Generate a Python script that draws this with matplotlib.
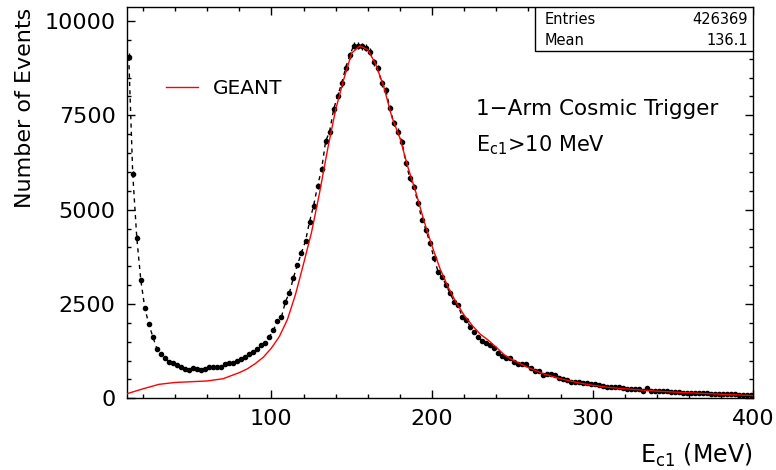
import numpy as np
import matplotlib
matplotlib.use("Agg")
import matplotlib.pyplot as plt
from matplotlib.lines import Line2D
from matplotlib.patches import Rectangle
from matplotlib.ticker import MultipleLocator

# ---- data ----
bin_low = 10.0
bin_width = 2.5
counts = [
    9050, 5940, 4260, 3140, 2390, 1970, 1630, 1320, 1170, 1070,
    975, 945, 885, 840, 780, 750, 800, 780, 760, 785,
    830, 820, 820, 820, 910, 925, 945, 990, 1050, 1100,
    1175, 1230, 1300, 1410, 1460, 1630, 1800, 2060, 2150, 2560,
    2800, 3200, 3540, 3860, 4170, 4680, 5100, 5630, 6070, 6810,
    7070, 7660, 8020, 8350, 8760, 9090, 9350, 9345, 9330, 9290,
    9190, 8910, 8750, 8350, 8170, 7690, 7290, 7070, 6800, 6230,
    5830, 5610, 5170, 4730, 4460, 4110, 3710, 3355, 3220, 3000,
    2780, 2560, 2470, 2160, 2080, 1900, 1765, 1630, 1520, 1470,
    1410, 1330, 1200,
    1120, 1060, 1060, 971, 909, 900, 900, 795, 733, 733,
    617, 636, 636, 617, 547, 503, 485, 441, 441, 424,
    414, 414, 388, 379, 353, 326, 308, 308, 308, 308,
    282, 247, 238, 256, 238, 203, 265, 203, 194, 194,
    194, 194, 177, 177, 159, 150, 150, 150, 133, 133,
    133, 133, 124, 115, 115, 115, 115, 106, 106, 97,
    97, 97, 88,
]

geant_x = [10, 20, 30, 40, 50, 60, 70, 80, 85, 90, 95, 100, 105, 110, 115,
           120, 125, 130, 135, 140, 145, 150, 155, 160, 165, 170, 175, 180,
           185, 190, 195, 200, 205, 210, 215, 220, 225, 230, 235, 240, 245,
           250, 260, 270, 280, 290, 300, 310, 320, 330, 340, 350, 360, 370,
           380, 390, 400]
geant_y = [120, 250, 370, 420, 440, 460, 520, 680, 780, 920, 1090, 1330, 1640,
           2090, 2750, 3560, 4400, 5450, 6600, 7650, 8450, 9150, 9340, 9240,
           8850, 8250, 7450, 6900, 6120, 5450, 4700, 4030, 3430, 2950, 2540,
           2200, 1930, 1700, 1540, 1350, 1150, 1020, 812, 640, 520, 420, 345,
           290, 252, 222, 190, 167, 147, 127, 108, 90, 72]

entries_label = "Entries"
entries_value = "426369"
mean_label = "Mean"
mean_value = "136.1"

# ---- figure ----
plt.rcParams['font.family'] = ['DejaVu Sans']
fig = plt.figure(figsize=(7.76, 4.70), dpi=100)
ax = fig.add_axes([0.1633, 0.1525, 0.8077, 0.8333])

counts_arr = np.array(counts, dtype=float)
centers = bin_low + bin_width * (np.arange(len(counts_arr)) + 0.5)

ax.plot(centers, counts_arr, color='black', lw=1.0, dashes=(3, 3), zorder=2)
ax.errorbar(centers, counts_arr, yerr=np.sqrt(counts_arr), fmt='o', ms=3.0,
            color='black', ecolor='black', elinewidth=1.0, capsize=0, zorder=3)
ax.plot(geant_x, geant_y, color='red', lw=1.0, zorder=4)

ax.set_xlim(10, 400)
ax.set_ylim(0, 10380)
ax.xaxis.set_major_locator(MultipleLocator(100))
ax.xaxis.set_minor_locator(MultipleLocator(20))
ax.yaxis.set_major_locator(MultipleLocator(2500))
ax.yaxis.set_minor_locator(MultipleLocator(500))
ax.tick_params(which='both', direction='in', top=True, right=True,
               labelsize=16, pad=8)
ax.tick_params(which='major', length=6, width=1)
ax.tick_params(which='minor', length=3.2, width=1)
for s in ax.spines.values():
    s.set_linewidth(1.0)

fig.text(25 / 776, 1 - 8 / 470, "Number of Events", rotation=90,
         ha='center', va='top', fontsize=16)
fig.text(752 / 776, 0.015, r"$\mathregular{E_{c1}}$ (MeV)", ha='right',
         va='baseline', fontsize=17)

# legend
h = Line2D([], [], color='red', lw=1.0)
ax.legend([h], ["GEANT"], loc='center left', bbox_to_anchor=(0.034, 0.79),
          frameon=False, fontsize=14.5, handlelength=1.6, handletextpad=0.7,
          borderpad=0.4)

ax.text(0.557, 0.739, "1\u2212Arm Cosmic Trigger", transform=ax.transAxes,
        ha='left', va='center', fontsize=15.5)
ax.text(0.557, 0.647, r"$\mathregular{E_{c1}}$>10 MeV", transform=ax.transAxes,
        ha='left', va='center', fontsize=15)

# stats box
ax.add_patch(Rectangle((0.651, 0.887), 0.349, 0.113, transform=ax.transAxes,
                       facecolor='white', edgecolor='black', lw=1.0, zorder=5))
ax.text(0.667, 0.966, entries_label, transform=ax.transAxes, ha='left',
        va='center', fontsize=10.5, zorder=6)
ax.text(0.991, 0.966, entries_value, transform=ax.transAxes, ha='right',
        va='center', fontsize=10.5, zorder=6)
ax.text(0.667, 0.913, mean_label, transform=ax.transAxes, ha='left',
        va='center', fontsize=10.5, zorder=6)
ax.text(0.991, 0.913, mean_value, transform=ax.transAxes, ha='right',
        va='center', fontsize=10.5, zorder=6)

fig.savefig("out.png", dpi=100)
